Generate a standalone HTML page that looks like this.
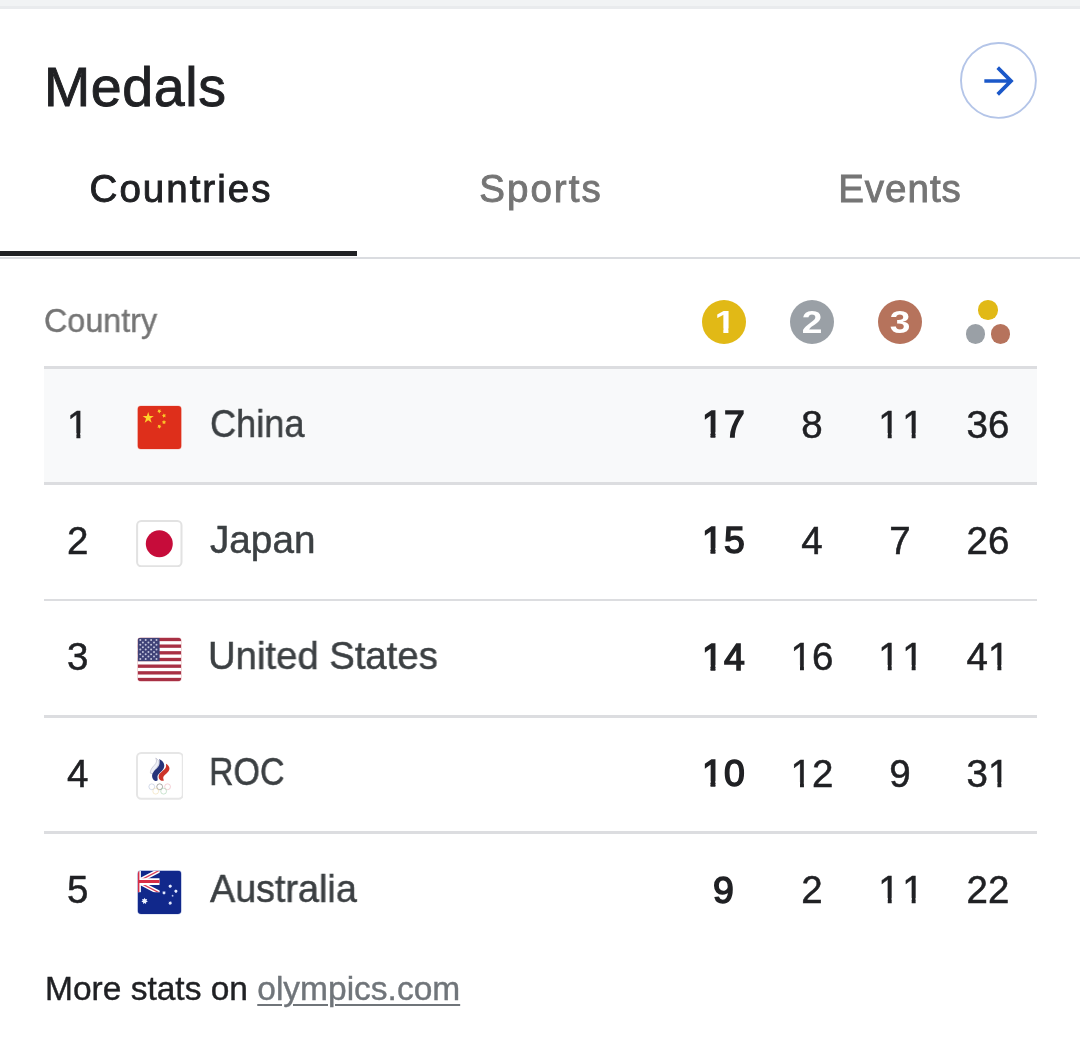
<!DOCTYPE html>
<html lang="en">
<head>
<meta charset="utf-8">
<title>Medals</title>
<style>
html,body{margin:0;padding:0;background:#fff;}
body{width:1080px;height:1049px;position:relative;overflow:hidden;font-family:"Liberation Sans",sans-serif;color:#202124;}
.abs{position:absolute;}
.t{will-change:transform;position:absolute;white-space:nowrap;line-height:1;transform-origin:0 50%;}
.c{will-change:transform;position:absolute;white-space:nowrap;line-height:1;text-align:center;}
.topA{left:0;top:0;width:1080px;height:6px;background:#f1f3f4;}
.topB{left:0;top:6px;width:1080px;height:3px;background:#e9ebed;}
.title{font-size:55.5px;left:44.1px;top:59.5px;letter-spacing:0.6px;-webkit-text-stroke:0.9px #202124;}
.tab{font-size:38.5px;top:170.3px;width:360px;}
.tab.on{color:#202124;-webkit-text-stroke:0.9px #202124;}
.tab.off{color:#757575;-webkit-text-stroke:0.9px #757575;}
.ul{left:0;top:251px;width:357px;height:5px;background:#202124;}
.hr{left:0;top:257px;width:1080px;height:2px;background:#dadce0;}
.hd{font-size:33px;left:44.4px;top:303.7px;color:#757575;transform:scaleX(0.979);-webkit-text-stroke:0.4px #757575;}
.ln{left:44px;width:993px;height:3px;background:#dcdde0;}
.rowbg{left:44px;top:369px;width:993px;height:113px;background:#f8f9fa;}
.medal{border-radius:50%;width:44px;height:44px;top:300px;}
.medal > span{will-change:transform;position:absolute;left:0;top:5.6px;width:44px;text-align:center;font-size:32px;line-height:1;font-weight:bold;color:#fff;transform:scaleX(1.16);}
.dot{border-radius:50%;width:19.6px;height:19.6px;}
.rk{font-size:38.5px;color:#202124;-webkit-text-stroke:0.5px #202124;}
.nm{font-size:38.5px;color:#3c4043;left:207px;-webkit-text-stroke:0.5px #3c4043;}
.n{font-size:38.5px;color:#202124;width:88px;-webkit-text-stroke:0.5px #202124;}
.n.b{font-size:37.4px;margin-top:0.5px;-webkit-text-stroke:1.5px #202124;letter-spacing:1.4px;text-indent:0.2px;}
.o{display:inline-block;text-indent:0;clip-path:polygon(0 0,0.7em 0,0.7em 0.7em,0.3465em 0.7em,0.3465em 1em,0.2455em 1em,0.2455em 0.7em,0 0.7em);}
.n.b .o{clip-path:polygon(0 0,0.7em 0,0.7em 0.7em,0.361em 0.7em,0.361em 1em,0.231em 1em,0.231em 0.7em,0 0.7em);}
.medal .o{clip-path:polygon(0 0,0.7em 0,0.7em 0.7em,0.371em 0.7em,0.371em 1em,0.233em 1em,0.233em 0.7em,0 0.7em);}
.flag{left:136px;width:47px;height:47px;}
.ft{font-size:33.5px;left:44.8px;top:972.4px;color:#202124;-webkit-text-stroke:0.4px #202124;}
.ft a{color:#70757a;-webkit-text-stroke:0.4px #70757a;text-decoration:underline;text-decoration-thickness:2px;text-underline-offset:3.8px;}
</style>
</head>
<body>
<div class="abs topA"></div>
<div class="abs topB"></div>

<div class="t title">Medals</div>

<svg class="abs" style="left:958px;top:40px;" width="81" height="81" viewBox="0 0 81 81"><circle cx="40.45" cy="40.4" r="37.45" fill="#fff" stroke="#b4c5e8" stroke-width="1.9"/></svg>
<svg class="abs" style="left:976.75px;top:58.9px;" width="44" height="44" viewBox="0 0 24 24"><path fill="#1b58c9" d="M12 4l-1.41 1.41L16.17 11H4v2h12.17l-5.58 5.59L12 20l8-8z"/></svg>

<div class="c tab on" style="left:0.5px;letter-spacing:2.0px;">Countries</div>
<div class="c tab off" style="left:360.6px;letter-spacing:2.0px;">Sports</div>
<div class="c tab off" style="left:720.3px;letter-spacing:1.0px;">Events</div>
<div class="abs ul"></div>
<div class="abs hr"></div>

<div class="t hd">Country</div>

<div class="abs medal" style="left:702px;background:#e1b916;"><span style="left:1.3px;"><span class="o">1</span></span></div>
<div class="abs medal" style="left:790px;background:#9aa0a6;"><span>2</span></div>
<div class="abs medal" style="left:878px;background:#b6735c;"><span>3</span></div>
<div class="abs dot" style="left:978.2px;top:300px;background:#e1b916;"></div>
<div class="abs dot" style="left:965.9px;top:324.2px;background:#9aa0a6;"></div>
<div class="abs dot" style="left:990.5px;top:324.2px;background:#b6735c;"></div>

<div class="abs ln" style="top:366px;"></div>
<div class="abs rowbg"></div>
<div class="abs ln" style="top:482px;"></div>
<div class="abs ln" style="top:599px;height:2px;"></div>
<div class="abs ln" style="top:715px;"></div>
<div class="abs ln" style="top:831px;"></div>

<!-- row 1 -->
<div class="t rk" style="left:66.6px;top:405.5px;"><span class="o">1</span></div>
<div class="t nm" style="top:405.1px;left:209.9px;transform:scaleX(0.939);">China</div>
<div class="c n b" style="left:680px;top:405.5px;"><span class="o">1</span>7</div>
<div class="c n" style="left:768px;top:405.5px;">8</div>
<div class="c n" style="left:856px;top:405.5px;letter-spacing:2.5px;text-indent:4.5px;"><span class="o">1</span><span class="o">1</span></div>
<div class="c n" style="left:944px;top:405.5px;">36</div>

<!-- row 2 -->
<div class="t rk" style="left:66.6px;top:521.7px;">2</div>
<div class="t nm" style="top:520.9px;left:210px;transform:scaleX(1.005);">Japan</div>
<div class="c n b" style="left:680px;top:521.7px;"><span class="o">1</span>5</div>
<div class="c n" style="left:768px;top:521.7px;">4</div>
<div class="c n" style="left:856px;top:521.7px;">7</div>
<div class="c n" style="left:944px;top:521.7px;">26</div>

<!-- row 3 -->
<div class="t rk" style="left:66.6px;top:638.2px;">3</div>
<div class="t nm" style="top:637.2px;left:208px;transform:scaleX(0.994);">United States</div>
<div class="c n b" style="left:680px;top:638.2px;"><span class="o">1</span>4</div>
<div class="c n" style="left:768px;top:638.2px;"><span class="o">1</span>6</div>
<div class="c n" style="left:856px;top:638.2px;letter-spacing:2.5px;text-indent:4.5px;"><span class="o">1</span><span class="o">1</span></div>
<div class="c n" style="left:944px;top:638.2px;">4<span class="o">1</span></div>

<!-- row 4 -->
<div class="t rk" style="left:66.6px;top:754.6px;">4</div>
<div class="t nm" style="top:753.0px;left:209px;transform:scaleX(0.883);">ROC</div>
<div class="c n b" style="left:680px;top:754.6px;"><span class="o">1</span>0</div>
<div class="c n" style="left:768px;top:754.6px;"><span class="o">1</span>2</div>
<div class="c n" style="left:856px;top:754.6px;">9</div>
<div class="c n" style="left:944px;top:754.6px;">3<span class="o">1</span></div>

<!-- row 5 -->
<div class="t rk" style="left:66.6px;top:871.0px;">5</div>
<div class="t nm" style="top:870.1px;left:210px;transform:scaleX(0.98);">Australia</div>
<div class="c n b" style="left:680px;top:871.0px;">9</div>
<div class="c n" style="left:768px;top:871.0px;">2</div>
<div class="c n" style="left:856px;top:871.0px;letter-spacing:2.5px;text-indent:4.5px;"><span class="o">1</span><span class="o">1</span></div>
<div class="c n" style="left:944px;top:871.0px;">22</div>


<!-- flags -->
<svg class="abs flag" style="top:403.9px;" viewBox="0 0 47 47">
<rect x="1.2" y="1.4" width="44.6" height="44.2" rx="3.6" fill="#ee6a55" opacity="0.35"/>
<rect x="1.8" y="2" width="43.4" height="43" rx="3" fill="#de2f1b"/>
<polygon fill="#fdd22a" points="12.20,8.00 13.52,12.08 17.81,12.08 14.34,14.60 15.67,18.67 12.20,16.15 8.73,18.67 10.06,14.60 6.59,12.08 10.88,12.08"/>
<polygon fill="#fbc628" points="24.40,5.29 24.40,6.71 25.45,7.66 24.10,8.09 23.53,9.39 22.70,8.24 21.29,8.09 22.13,6.95 21.83,5.57 23.17,6.01"/>
<polygon fill="#fbc628" points="29.91,10.60 29.19,11.83 29.63,13.17 28.25,12.87 27.11,13.71 26.96,12.30 25.81,11.47 27.11,10.90 27.54,9.55 28.49,10.60"/>
<polygon fill="#fbc628" points="28.00,16.10 28.71,17.33 30.09,17.62 29.14,18.67 29.29,20.08 28.00,19.50 26.71,20.08 26.86,18.67 25.91,17.62 27.29,17.33"/>
<polygon fill="#fbc628" points="24.40,20.59 24.40,22.01 25.45,22.96 24.10,23.39 23.53,24.69 22.70,23.54 21.29,23.39 22.13,22.25 21.83,20.87 23.17,21.31"/>
</svg>
<svg class="abs flag" style="top:519.7px;left:136.1px;" viewBox="0 0 47 47">
<rect x="1.1" y="1" width="44.4" height="45.3" rx="4.2" fill="#fff" stroke="#e2e2e2" stroke-width="2"/>
<circle cx="23.3" cy="23.7" r="13.5" fill="#c60c3a"/>
</svg>
<svg class="abs flag" style="top:635.9px;" viewBox="0 0 47 47">
<defs><clipPath id="usc"><rect x="1.7" y="1.8" width="43.5" height="43.4" rx="3.2"/></clipPath></defs>
<rect x="1.1" y="1.2" width="44.7" height="44.6" rx="3.8" fill="#c8606a" opacity="0.3"/>
<g clip-path="url(#usc)">
<rect x="1.7" y="1.8" width="43.5" height="43.4" fill="#fff"/>
<rect x="1.7" y="1.80" width="43.5" height="3.34" fill="#a83044"/>
<rect x="1.7" y="8.48" width="43.5" height="3.34" fill="#a83044"/>
<rect x="1.7" y="15.15" width="43.5" height="3.34" fill="#a83044"/>
<rect x="1.7" y="21.83" width="43.5" height="3.34" fill="#a83044"/>
<rect x="1.7" y="28.51" width="43.5" height="3.34" fill="#a83044"/>
<rect x="1.7" y="35.18" width="43.5" height="3.34" fill="#a83044"/>
<rect x="1.7" y="41.86" width="43.5" height="3.34" fill="#a83044"/>
<rect x="1.7" y="1.8" width="21.9" height="23.37" fill="#3f4277"/>
<circle cx="4.30" cy="4.10" r="1" fill="#c3c5dc"/><circle cx="9.70" cy="4.10" r="1" fill="#c3c5dc"/><circle cx="15.10" cy="4.10" r="1" fill="#c3c5dc"/><circle cx="20.50" cy="4.10" r="1" fill="#c3c5dc"/><circle cx="6.90" cy="6.46" r="1" fill="#c3c5dc"/><circle cx="12.45" cy="6.46" r="1" fill="#c3c5dc"/><circle cx="18.00" cy="6.46" r="1" fill="#c3c5dc"/><circle cx="4.30" cy="8.82" r="1" fill="#c3c5dc"/><circle cx="9.70" cy="8.82" r="1" fill="#c3c5dc"/><circle cx="15.10" cy="8.82" r="1" fill="#c3c5dc"/><circle cx="20.50" cy="8.82" r="1" fill="#c3c5dc"/><circle cx="6.90" cy="11.18" r="1" fill="#c3c5dc"/><circle cx="12.45" cy="11.18" r="1" fill="#c3c5dc"/><circle cx="18.00" cy="11.18" r="1" fill="#c3c5dc"/><circle cx="4.30" cy="13.54" r="1" fill="#c3c5dc"/><circle cx="9.70" cy="13.54" r="1" fill="#c3c5dc"/><circle cx="15.10" cy="13.54" r="1" fill="#c3c5dc"/><circle cx="20.50" cy="13.54" r="1" fill="#c3c5dc"/><circle cx="6.90" cy="15.90" r="1" fill="#c3c5dc"/><circle cx="12.45" cy="15.90" r="1" fill="#c3c5dc"/><circle cx="18.00" cy="15.90" r="1" fill="#c3c5dc"/><circle cx="4.30" cy="18.26" r="1" fill="#c3c5dc"/><circle cx="9.70" cy="18.26" r="1" fill="#c3c5dc"/><circle cx="15.10" cy="18.26" r="1" fill="#c3c5dc"/><circle cx="20.50" cy="18.26" r="1" fill="#c3c5dc"/><circle cx="6.90" cy="20.62" r="1" fill="#c3c5dc"/><circle cx="12.45" cy="20.62" r="1" fill="#c3c5dc"/><circle cx="18.00" cy="20.62" r="1" fill="#c3c5dc"/><circle cx="4.30" cy="22.98" r="1" fill="#c3c5dc"/><circle cx="9.70" cy="22.98" r="1" fill="#c3c5dc"/><circle cx="15.10" cy="22.98" r="1" fill="#c3c5dc"/><circle cx="20.50" cy="22.98" r="1" fill="#c3c5dc"/>
</g></svg>
<svg class="abs flag" style="left:135.7px;top:752.2px;width:47.8px;height:47.8px;" viewBox="0 0 47.8 47.8">
<rect x="1" y="1" width="45.8" height="45.8" rx="4.2" fill="#fff" stroke="#e6e6e6" stroke-width="2"/>
<g transform="scale(0.0572) translate(-100,-108)">
<path d="M445,215 C500,250 520,290 490,340 C460,390 420,430 420,490 L355,480 C340,440 380,380 420,340 C460,300 470,260 445,215 Z" fill="#eef0f8" stroke="#8f90a3" stroke-width="7"/>
<path d="M505,232 C570,260 615,320 585,390 C555,450 475,490 475,540 C475,570 485,590 472,612 L438,616 C392,590 368,540 388,490 C416,425 505,375 510,315 C512,280 515,255 505,232 Z" fill="#27347a"/>
<path d="M625,312 C685,350 705,400 665,450 C625,500 572,520 577,570 C579,590 592,600 582,612 L545,612 C494,590 482,540 512,490 C550,438 625,405 625,355 C625,338 628,325 625,312 Z" fill="#cc3329"/>
<g fill="none" stroke-width="10">
<circle cx="376" cy="716" r="51" stroke="#b3bfd8"/>
<circle cx="514" cy="716" r="51" stroke="#6f6d68"/>
<circle cx="652" cy="716" r="51" stroke="#ecb0b8"/>
<circle cx="445" cy="793" r="51" stroke="#f0dcae"/>
<circle cx="583" cy="793" r="51" stroke="#a3cfad"/>
</g>
</g>
</svg>
<svg class="abs flag" style="top:869.2px;" viewBox="0 0 47 47">
<defs><clipPath id="auc"><rect x="1.7" y="1.7" width="43.5" height="43.3" rx="3.4"/></clipPath><clipPath id="auk"><rect x="1.7" y="1.7" width="22" height="21.6"/></clipPath></defs>
<rect x="1.1" y="1.1" width="44.7" height="44.5" rx="4" fill="#4a62b8" opacity="0.3"/>
<g clip-path="url(#auc)">
<rect x="1.7" y="1.7" width="43.5" height="43.3" fill="#11288b"/>
<g clip-path="url(#auk)">
<path d="M1.7,12.6 L23.7,1.2 M1.7,12.6 L23.7,24" stroke="#fff" stroke-width="4.2"/>
<path d="M1.7,12.6 L23.7,1.2 M1.7,12.6 L23.7,24" stroke="#d8405a" stroke-width="1.3"/>
<path d="M1.7,12.6 H23.7" stroke="#fff" stroke-width="6.9"/>
<path d="M2.4,1.7 V23.7" stroke="#fff" stroke-width="5"/>
<path d="M1.7,12.6 H23.7" stroke="#d72c45" stroke-width="3"/>
<path d="M2.2,1.7 V23.7" stroke="#d72c45" stroke-width="2.4"/>
</g>
<polygon fill="#eef2ff" points="8.60,28.70 9.42,30.29 11.18,29.94 10.45,31.58 11.82,32.73 10.09,33.18 10.03,34.97 8.60,33.90 7.17,34.97 7.11,33.18 5.38,32.73 6.75,31.58 6.02,29.94 7.78,30.29"/>
<polygon fill="#e6ecff" points="34.20,15.20 34.72,16.12 35.76,15.95 35.37,16.93 36.15,17.65 35.14,17.95 35.07,19.00 34.20,18.40 33.33,19.00 33.26,17.95 32.25,17.65 33.03,16.93 32.64,15.95 33.68,16.12"/>
<polygon fill="#e6ecff" points="39.90,20.30 40.42,21.12 41.39,21.02 41.07,21.93 41.75,22.62 40.84,22.95 40.72,23.91 39.90,23.40 39.08,23.91 38.96,22.95 38.05,22.62 38.73,21.93 38.41,21.02 39.38,21.12"/>
<polygon fill="#e6ecff" points="28.00,21.90 28.52,22.72 29.49,22.62 29.17,23.53 29.85,24.22 28.94,24.55 28.82,25.51 28.00,25.00 27.18,25.51 27.06,24.55 26.15,24.22 26.83,23.53 26.51,22.62 27.48,22.72"/>
<polygon fill="#c4cef5" points="36.60,25.60 37.01,26.23 37.74,26.43 37.27,27.02 37.31,27.77 36.60,27.50 35.89,27.77 35.93,27.02 35.46,26.43 36.19,26.23"/>
<polygon fill="#e6ecff" points="34.20,32.10 34.72,33.02 35.76,32.85 35.37,33.83 36.15,34.55 35.14,34.85 35.07,35.90 34.20,35.30 33.33,35.90 33.26,34.85 32.25,34.55 33.03,33.83 32.64,32.85 33.68,33.02"/>
</g></svg>
<!-- endflags -->
<div class="t ft">More stats on <a>olympics.com</a></div>
</body>
</html>
